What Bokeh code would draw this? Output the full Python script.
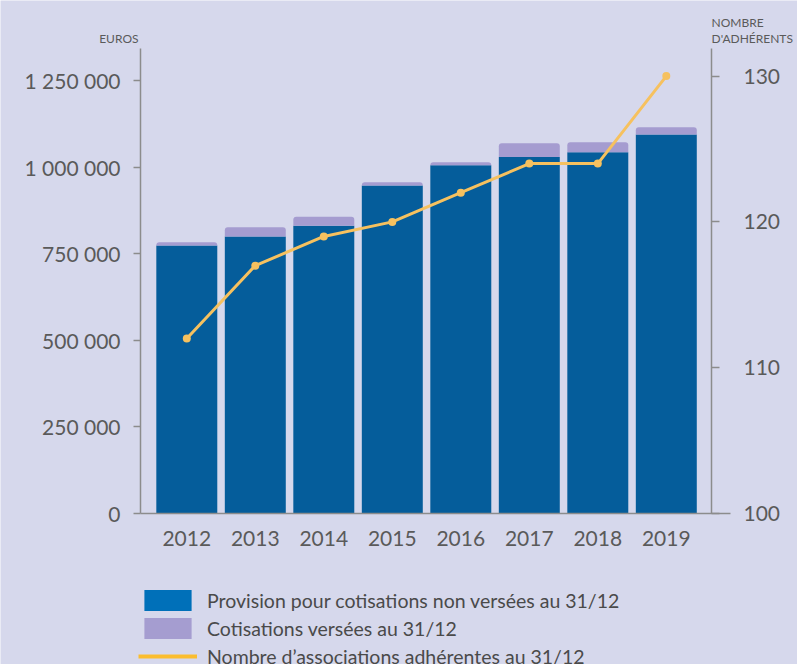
from bokeh.plotting import figure
from bokeh.models import Range1d, LinearAxis, FixedTicker, Label, Legend, LegendItem
from bokeh.embed import file_html
from bokeh.resources import INLINE

# ---- data ----
years = ["2012", "2013", "2014", "2015", "2016", "2017", "2018", "2019"]
provision = [774000, 800000, 831000, 947000, 1005000, 1029000, 1043000, 1094000]
cotisations = [9000, 26000, 26000, 9000, 9000, 40000, 29000, 21000]
adherents = [112, 117, 119, 120, 122, 124, 124, 130]
left_ticks = [0, 250000, 500000, 750000, 1000000, 1250000]
left_tick_labels = ["0", "250 000", "500 000", "750 000", "1 000 000", "1 250 000"]
right_ticks = [100, 110, 120, 130]
legend_labels = [
    "Provision pour cotisations non versées au 31/12",
    "Cotisations versées au 31/12",
    "Nombre d\u2019associations adhérentes au 31/12",
]

BG = "#d6d8ec"
BLUE = "#055d9b"
PURPLE = "#a59cd0"
YELLOW = "#f6c15f"
AXIS = "#8c8c8c"
TXT = "#5a5a5a"
FONT = "Lato"

# ---- layout geometry (pixels of the 797x664 canvas) ----
W, H = 797, 664
X0_PX, PITCH = 186.3, 68.5          # centre of first bar, bar pitch
Y0_PX = 513                          # baseline
EUR_PX = 346.4e-6                    # px per euro
ADH_PX = 14.58                       # px per adherent
LEFT_PX, RIGHT_PX, TOP_PX = 140, 711, 48

def xd(px):
    return (px - X0_PX) / PITCH

x_start, x_end = xd(0), xd(W)
y_start, y_end = -(H - Y0_PX) / EUR_PX, Y0_PX / EUR_PX
r_start, r_end = 100 - (H - Y0_PX) / ADH_PX, 100 + Y0_PX / ADH_PX
y_top = (Y0_PX - TOP_PX) / EUR_PX
r_top = 100 + (Y0_PX - TOP_PX) / ADH_PX

xs = list(range(len(years)))
totals = [a + b for a, b in zip(provision, cotisations)]

p = figure(width=W, height=H, output_backend="svg", toolbar_location=None,
           x_range=Range1d(x_start, x_end), y_range=Range1d(y_start, y_end),
           min_border=0, min_border_left=0, min_border_right=0,
           min_border_top=0, min_border_bottom=0)
p.title.visible = False
p.background_fill_color = BG
p.border_fill_color = BG
p.outline_line_color = None
p.xgrid.visible = False
p.ygrid.visible = False
p.extra_y_ranges = {"right": Range1d(r_start, r_end)}

# bars
r1 = p.vbar(x=xs, bottom=0, top=provision, width=0.89, color=BLUE, line_color=None)
r2 = p.vbar(x=xs, bottom=provision, top=totals, width=0.89, color=PURPLE, line_color=None)
try:
    r2.glyph.border_radius = (3, 3, 0, 0)
except Exception:
    pass

# line
p.line(x=xs, y=adherents, y_range_name="right", line_color=YELLOW, line_width=3)
p.scatter(x=xs, y=adherents, y_range_name="right", size=8, color=YELLOW, line_color=None)

# legend-only renderers (legend swatch colours), not drawn (NaN data)
nan = float("nan")
l1 = p.vbar(x=[nan], top=[nan], width=0.89, color="#0070b9", line_color=None)
l2 = p.vbar(x=[nan], top=[nan], width=0.89, color="#a59dd0", line_color=None)
l3 = p.line(x=[nan], y=[nan], line_color="#fbbd2e", line_width=4)

def style_axis(ax, size="21px"):
    ax.minor_tick_line_color = None
    ax.axis_line_color = AXIS
    ax.axis_line_width = 1.5
    ax.major_tick_line_color = AXIS
    ax.major_tick_line_width = 1.5
    ax.major_tick_in = 0
    ax.major_label_text_font = FONT
    ax.major_label_text_font_size = size
    ax.major_label_text_color = TXT

# bottom axis
xa = p.xaxis[0]
style_axis(xa)
xa.ticker = FixedTicker(ticks=xs)
xa.major_label_overrides = {i: y for i, y in zip(xs, years)}
xa.major_tick_out = 0
xa.major_label_standoff = 17
xa.fixed_location = 0
xa.bounds = (xd(LEFT_PX), xd(730))

# left axis
ya = p.yaxis[0]
style_axis(ya)
ya.ticker = FixedTicker(ticks=left_ticks)
ya.major_label_overrides = {t: l for t, l in zip(left_ticks, left_tick_labels)}
ya.major_tick_out = 7
ya.major_label_standoff = 13
ya.major_label_text_baseline = "alphabetic"
ya.fixed_location = xd(LEFT_PX)
ya.bounds = (0, y_top)

# right axis
ra = LinearAxis(y_range_name="right", ticker=FixedTicker(ticks=right_ticks))
style_axis(ra)
ra.major_tick_out = 8
ra.major_label_standoff = 24
ra.fixed_location = xd(RIGHT_PX)
ra.bounds = (100, r_top)
p.add_layout(ra, "right")

# axis titles
p.add_layout(Label(x=xd(LEFT_PX), y=y_top, x_offset=-2, y_offset=10, text="EUROS",
                   text_align="right", text_baseline="middle", text_font=FONT,
                   text_font_size="12px", text_color=TXT))
p.add_layout(Label(x=xd(RIGHT_PX), y=y_top, y_offset=26, text="NOMBRE",
                   text_align="left", text_baseline="middle", text_font=FONT,
                   text_font_size="12px", text_color=TXT))
p.add_layout(Label(x=xd(RIGHT_PX), y=y_top, y_offset=10, text="D'ADHÉRENTS",
                   text_align="left", text_baseline="middle", text_font=FONT,
                   text_font_size="12px", text_color=TXT))

legend = Legend(items=[LegendItem(label=legend_labels[0], renderers=[l1]),
                       LegendItem(label=legend_labels[1], renderers=[l2]),
                       LegendItem(label=legend_labels[2], renderers=[l3])],
                location=(138, -5), orientation="vertical",
                glyph_width=59, glyph_height=26, label_height=26, label_standoff=10,
                spacing=2, padding=0, margin=0, background_fill_alpha=0,
                border_line_color=None, label_text_font=FONT, label_text_font_size="19.5px",
                label_text_color="#4a4a4a")
p.add_layout(legend, "center")

open("out.html", "w").write(file_html(p, INLINE))
